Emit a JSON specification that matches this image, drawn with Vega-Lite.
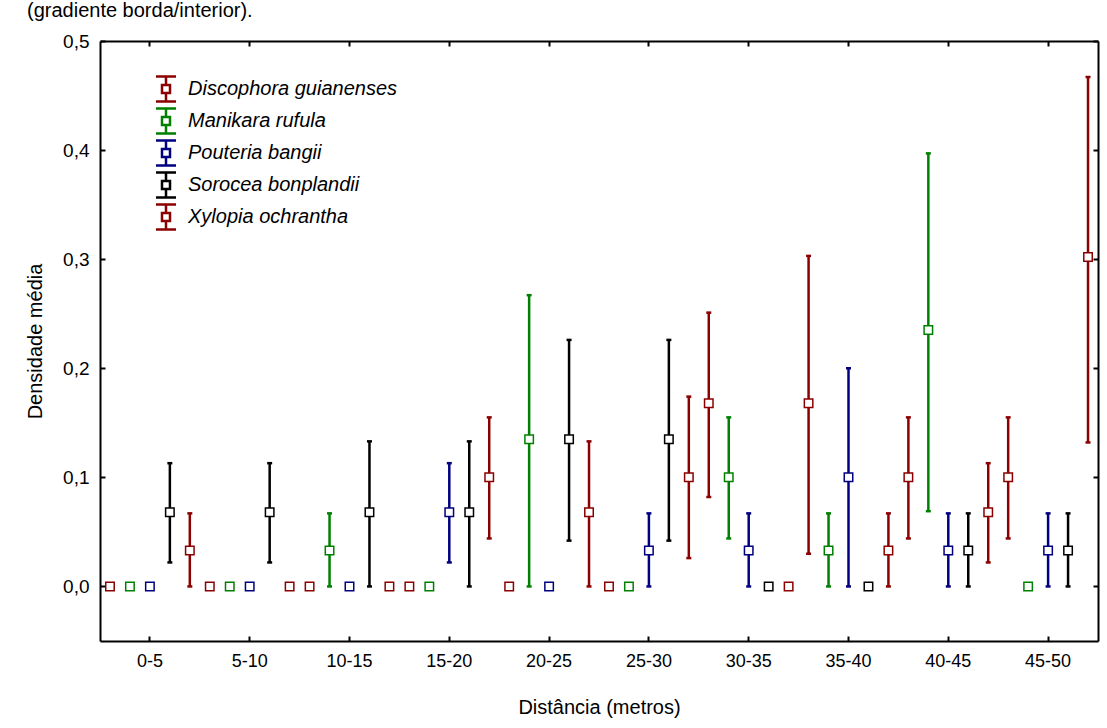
{
  "$schema": "https://vega.github.io/schema/vega-lite/v6.json",
  "autosize": "none",
  "padding": {"left": 100, "top": 41, "right": 9, "bottom": 87},
  "width": 998,
  "height": 600,
  "title": {"text": "(gradiente borda/interior).", "anchor": "start", "frame": "group", "fontSize": 20, "fontWeight": "normal", "color": "#000000", "font": "Liberation Sans", "offset": 0, "baseline": "alphabetic", "dx": -73, "dy": 5},
  "config": {
    "font": "Liberation Sans",
    "view": {"stroke": null},
    "axis": {"grid": false, "domainColor": "#000000", "domainWidth": 2, "tickColor": "#000000", "tickWidth": 2, "tickSize": -5, "labelColor": "#000000", "titleColor": "#000000", "labelFont": "Liberation Sans", "titleFont": "Liberation Sans", "titleFontWeight": "normal"}
  },
  "data": {"values": [
    {"dist": "0-5", "species": "Discophora guianenses", "mean": 0},
    {"dist": "0-5", "species": "Manikara rufula", "mean": 0},
    {"dist": "0-5", "species": "Pouteria bangii", "mean": 0},
    {"dist": "0-5", "species": "Sorocea bonplandii", "mean": 0.068, "lo": 0.022, "hi": 0.113},
    {"dist": "0-5", "species": "Xylopia ochrantha", "mean": 0.033, "lo": 0, "hi": 0.067},
    {"dist": "5-10", "species": "Discophora guianenses", "mean": 0},
    {"dist": "5-10", "species": "Manikara rufula", "mean": 0},
    {"dist": "5-10", "species": "Pouteria bangii", "mean": 0},
    {"dist": "5-10", "species": "Sorocea bonplandii", "mean": 0.068, "lo": 0.022, "hi": 0.113},
    {"dist": "5-10", "species": "Xylopia ochrantha", "mean": 0},
    {"dist": "10-15", "species": "Discophora guianenses", "mean": 0},
    {"dist": "10-15", "species": "Manikara rufula", "mean": 0.033, "lo": 0, "hi": 0.067},
    {"dist": "10-15", "species": "Pouteria bangii", "mean": 0},
    {"dist": "10-15", "species": "Sorocea bonplandii", "mean": 0.068, "lo": 0, "hi": 0.133},
    {"dist": "10-15", "species": "Xylopia ochrantha", "mean": 0},
    {"dist": "15-20", "species": "Discophora guianenses", "mean": 0},
    {"dist": "15-20", "species": "Manikara rufula", "mean": 0},
    {"dist": "15-20", "species": "Pouteria bangii", "mean": 0.068, "lo": 0.022, "hi": 0.113},
    {"dist": "15-20", "species": "Sorocea bonplandii", "mean": 0.068, "lo": 0, "hi": 0.133},
    {"dist": "15-20", "species": "Xylopia ochrantha", "mean": 0.1, "lo": 0.044, "hi": 0.155},
    {"dist": "20-25", "species": "Discophora guianenses", "mean": 0},
    {"dist": "20-25", "species": "Manikara rufula", "mean": 0.135, "lo": 0, "hi": 0.267},
    {"dist": "20-25", "species": "Pouteria bangii", "mean": 0},
    {"dist": "20-25", "species": "Sorocea bonplandii", "mean": 0.135, "lo": 0.042, "hi": 0.226},
    {"dist": "20-25", "species": "Xylopia ochrantha", "mean": 0.068, "lo": 0, "hi": 0.133},
    {"dist": "25-30", "species": "Discophora guianenses", "mean": 0},
    {"dist": "25-30", "species": "Manikara rufula", "mean": 0},
    {"dist": "25-30", "species": "Pouteria bangii", "mean": 0.033, "lo": 0, "hi": 0.067},
    {"dist": "25-30", "species": "Sorocea bonplandii", "mean": 0.135, "lo": 0.042, "hi": 0.226},
    {"dist": "25-30", "species": "Xylopia ochrantha", "mean": 0.1, "lo": 0.026, "hi": 0.174},
    {"dist": "30-35", "species": "Discophora guianenses", "mean": 0.168, "lo": 0.082, "hi": 0.251},
    {"dist": "30-35", "species": "Manikara rufula", "mean": 0.1, "lo": 0.044, "hi": 0.155},
    {"dist": "30-35", "species": "Pouteria bangii", "mean": 0.033, "lo": 0, "hi": 0.067},
    {"dist": "30-35", "species": "Sorocea bonplandii", "mean": 0},
    {"dist": "30-35", "species": "Xylopia ochrantha", "mean": 0},
    {"dist": "35-40", "species": "Discophora guianenses", "mean": 0.168, "lo": 0.03, "hi": 0.303},
    {"dist": "35-40", "species": "Manikara rufula", "mean": 0.033, "lo": 0, "hi": 0.067},
    {"dist": "35-40", "species": "Pouteria bangii", "mean": 0.1, "lo": 0, "hi": 0.2},
    {"dist": "35-40", "species": "Sorocea bonplandii", "mean": 0},
    {"dist": "35-40", "species": "Xylopia ochrantha", "mean": 0.033, "lo": 0, "hi": 0.067},
    {"dist": "40-45", "species": "Discophora guianenses", "mean": 0.1, "lo": 0.044, "hi": 0.155},
    {"dist": "40-45", "species": "Manikara rufula", "mean": 0.235, "lo": 0.069, "hi": 0.397},
    {"dist": "40-45", "species": "Pouteria bangii", "mean": 0.033, "lo": 0, "hi": 0.067},
    {"dist": "40-45", "species": "Sorocea bonplandii", "mean": 0.033, "lo": 0, "hi": 0.067},
    {"dist": "40-45", "species": "Xylopia ochrantha", "mean": 0.068, "lo": 0.022, "hi": 0.113},
    {"dist": "45-50", "species": "Discophora guianenses", "mean": 0.1, "lo": 0.044, "hi": 0.155},
    {"dist": "45-50", "species": "Manikara rufula", "mean": 0},
    {"dist": "45-50", "species": "Pouteria bangii", "mean": 0.033, "lo": 0, "hi": 0.067},
    {"dist": "45-50", "species": "Sorocea bonplandii", "mean": 0.033, "lo": 0, "hi": 0.067},
    {"dist": "45-50", "species": "Xylopia ochrantha", "mean": 0.302, "lo": 0.132, "hi": 0.467}
  ]},
  "encoding": {
    "x": {"field": "dist", "type": "nominal", "sort": null, "scale": {"paddingInner": 0, "paddingOuter": 0}},
    "xOffset": {"field": "species", "type": "nominal", "scale": {"domain": ["Discophora guianenses", "Manikara rufula", "Pouteria bangii", "Sorocea bonplandii", "Xylopia ochrantha"], "paddingInner": 0, "paddingOuter": 0}},
    "color": {"field": "species", "type": "nominal", "scale": {"domain": ["Discophora guianenses", "Manikara rufula", "Pouteria bangii", "Sorocea bonplandii", "Xylopia ochrantha"], "range": ["#8B0000", "#008000", "#000080", "#000000", "#8B0000"]},
      "legend": {"title": null, "orient": "none", "legendX": 52, "legendY": 34, "padding": 0, "symbolType": "M-0.8,-1H0.8M0,-1V-0.32M0,0.32V1M-0.8,1H0.8M-0.32,-0.32H0.32V0.32H-0.32Z", "symbolSize": 625, "symbolStrokeWidth": 2.5, "symbolFillColor": "#ffffff", "symbolOpacity": 1, "labelFontSize": 20, "labelFontStyle": "italic", "labelColor": "#000000", "labelOffset": 8, "labelLimit": 0, "rowPadding": -6, "labelFont": "Liberation Sans",
        "encoding": {"symbols": {"fill": {"value": "#ffffff"}, "fillOpacity": {"value": 1}, "strokeWidth": {"value": 2.5}, "size": {"value": 625}}}}}
  },
  "layer": [
    {
      "transform": [{"filter": "datum.lo != null"}],
      "mark": {"type": "rule", "strokeWidth": 2.5},
      "encoding": {
        "x": {"field": "dist", "type": "nominal", "sort": null, "scale": {"paddingInner": 0, "paddingOuter": 0}, "axis": {"orient": "bottom", "title": "Distância (metros)", "labelAngle": 0, "labelFontSize": 18, "labelPadding": 16, "titleFontSize": 20, "titleX": 499, "titleY": 66, "titleBaseline": "middle", "titleAlign": "center"}},
        "y": {"field": "lo", "type": "quantitative", "scale": {"domain": [-0.05, 0.5], "nice": false, "zero": false}, "axis": {"orient": "left", "title": "Densidade média", "values": [0, 0.1, 0.2, 0.3, 0.4, 0.5], "labelExpr": "replace(format(datum.value, '.1f'), '.', ',')", "labelFontSize": 19, "labelPadding": 16, "titleFontSize": 20, "titleX": -65, "titleY": 300, "titleBaseline": "middle", "titleAlign": "center", "titleAngle": -90}},
        "y2": {"field": "hi"}
      }
    },
    {
      "transform": [{"filter": "datum.lo != null"}],
      "mark": {"type": "point", "shape": "M-1,0H1", "filled": false, "size": 25, "strokeWidth": 2.5, "opacity": 1},
      "encoding": {
        "x": {"field": "dist", "type": "nominal", "sort": null, "axis": null},
        "y": {"field": "lo", "type": "quantitative", "axis": null}
      }
    },
    {
      "transform": [{"filter": "datum.lo != null"}],
      "mark": {"type": "point", "shape": "M-1,0H1", "filled": false, "size": 25, "strokeWidth": 2.5, "opacity": 1},
      "encoding": {
        "x": {"field": "dist", "type": "nominal", "sort": null, "axis": null},
        "y": {"field": "hi", "type": "quantitative", "axis": null}
      }
    },
    {
      "mark": {"type": "point", "shape": "square", "filled": false, "fill": "#ffffff", "fillOpacity": 1, "opacity": 1, "size": 72, "strokeWidth": 1.5},
      "encoding": {
        "x": {"field": "dist", "type": "nominal", "sort": null, "axis": {"orient": "top", "labels": false, "title": null}},
        "y": {"field": "mean", "type": "quantitative", "axis": {"orient": "right", "labels": false, "title": null, "values": [0, 0.1, 0.2, 0.3, 0.4, 0.5]}}
      }
    }
  ],
  "resolve": {"axis": {"x": "independent", "y": "independent"}}
}
